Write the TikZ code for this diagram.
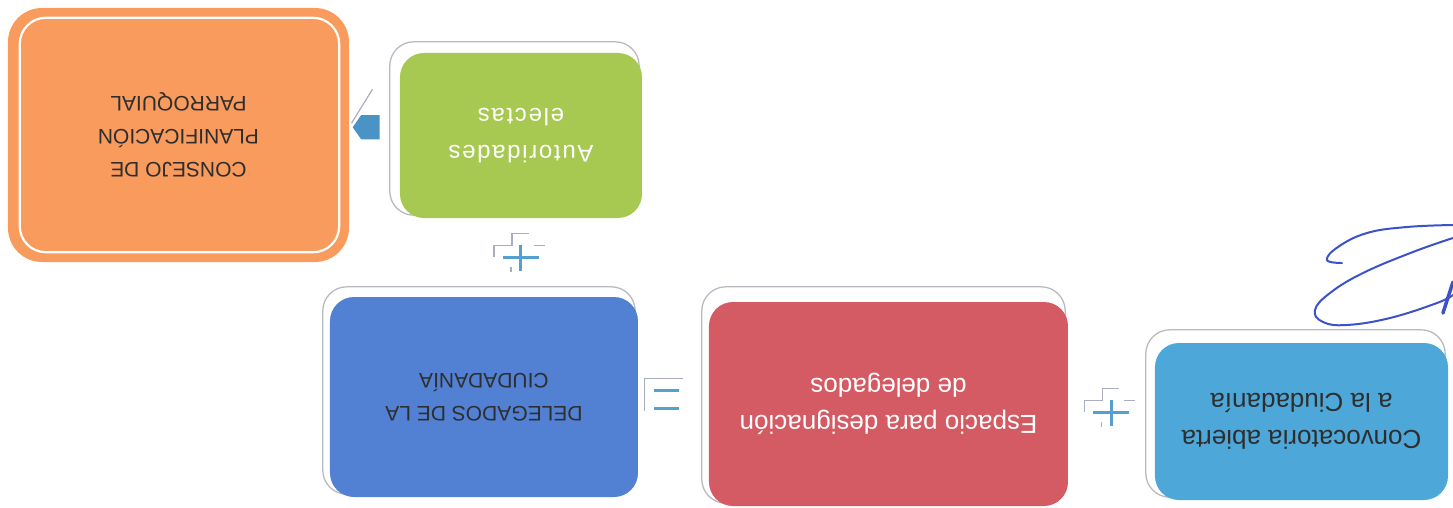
\documentclass[tikz,border=0pt]{standalone}
\usepackage{fontspec}
\setmainfont{Liberation Sans}
\usepackage{xcolor}
\definecolor{skyblue}{HTML}{4DA8D9}
\definecolor{rose}{HTML}{D45A63}
\definecolor{royal}{HTML}{5280D3}
\definecolor{lime}{HTML}{A8C951}
\definecolor{tangerine}{HTML}{F89B5C}
\definecolor{arrowblue}{HTML}{4A93C6}
\definecolor{opblue}{HTML}{55A0CF}
\definecolor{framegray}{HTML}{B9B9C2}
\definecolor{opgray}{HTML}{A9ADC0}
\definecolor{ink}{HTML}{2E2E2E}
\definecolor{signblue}{HTML}{3C52C9}
\usetikzlibrary{calc,shapes.arrows,backgrounds}
\tikzset{
  box/.style     ={rounded corners=24pt,align=center,text=ink,inner sep=0pt,
                   font=\fontsize{26}{37}\selectfont},
  capbox/.style  ={box,font=\fontsize{21}{33}\selectfont},
  boxframe/.style={draw=framegray,line width=1.3pt,rounded corners=24pt},
  opline/.style  ={draw=opblue,line width=3pt},
  opshade/.style ={draw=opgray,line width=1.2pt},
  blockarrow/.style={single arrow,fill=arrowblue,minimum height=27pt,
                   single arrow head extend=0pt,single arrow tip angle=110,
                   inner xsep=0pt,inner ysep=12pt},
  pen/.style     ={draw=signblue,line width=2pt,line cap=round},
}

\begin{document}
\begin{tikzpicture}[x=1pt,y=1pt]
% the scanned sheet lies upside down
\begin{scope}[rotate=180,transform shape]
\useasboundingbox (0,0) rectangle (1453,508);

% steps
\node[box,fill=skyblue,minimum width=293pt,minimum height=157pt] (conv) at (151.5,421.5)
  {Convocatoria abierta\\a la Ciudadanía};
\node[box,fill=rose,text=white,minimum width=359pt,minimum height=204pt] (esp) at (564.5,404)
  {Espacio para designación\\de delegados};
\node[capbox,fill=royal,minimum width=308pt,minimum height=200pt] (deleg) at (969,397)
  {DELEGADOS DE LA\\CIUDADANÍA};
\node[box,fill=lime,text=white,font=\fontsize{24}{37}\selectfont\addfontfeature{LetterSpace=7},
  minimum width=242pt,minimum height=165pt] (aut) at (932,135.5)
  {Autoridades\\electas};
\node[capbox,fill=tangerine,rounded corners=34pt,minimum width=341pt,minimum height=254pt]
  (cons) at (1274.5,135) {CONSEJO DE\\PLANIFICACIÓN\\PARROQUIAL};
\draw[white,line width=2.2pt,rounded corners=26pt]
  ($(cons.south west)+(10,10)$) rectangle ($(cons.north east)+(-12,-10)$);

% shadow frames
\begin{scope}[on background layer]
\foreach \nm/\dx/\dy in {conv/9/13, esp/7/15, deleg/7/10, aut/10/11}
  \draw[boxframe] ($(\nm.north west)+(3,-3)$) rectangle ($(\nm.south east)+(\dx,-\dy)$);
\end{scope}

% operators
\coordinate (plusA) at ($(conv.east)!0.5!(esp.west)$);
\path (aut.north) -- (aut.north |- deleg.south) coordinate[pos=0.5] (plusB);
\coordinate (eqC) at ($(esp.east)!0.6!(deleg.west)$);
\foreach \p in {plusA,plusB}
 {\draw[opshade] ($(\p)+(27,-1)$) -- ++(0,-11) -- ++(-18,0) -- ++(0,-12) -- ++(-17,0);
  \draw[opshade] ($(\p)+(-13,-12)$) -- ++(-11,0);
  \draw[opshade] ($(\p)+(10,9)$) -- ++(0,5);
  \draw[opline] ($(\p)+(-18,0)$) -- ($(\p)+(18,0)$);
  \draw[opline] ($(\p)+(0,-13)$) -- ($(\p)+(0,13)$);}
\draw[opshade] ($(eqC)+(-17,-21)$) -- ($(eqC)+(22,-21)$) -- ($(eqC)+(22,11)$);
\draw[opline] ($(eqC)+(-12.5,9)$) -- ($(eqC)+(12.5,9)$);
\draw[opline] ($(eqC)+(-12.5,-9)$) -- ($(eqC)+(12.5,-9)$);

\node[blockarrow] (arr) at ($(aut.east)!0.5!(cons.west)+(4,-8)$) {};
\draw[opshade] ($(arr)+(-2,-38)$) -- ($(arr)+(19,-4)$);

% signature
\draw[pen] plot[smooth,tension=0.7] coordinates
  {(111,263) (126,260) (115,247) (86,233) (46,227) (0,225)};
\draw[pen] plot[smooth,tension=0.7] coordinates
  {(0,238) (40,252) (90,273) (123,293) (138,310) (130,322) (106,325) (63,318) (16,303) (0,295)};
\draw[pen,line width=3.5pt] (10,313) -- (0,282);
\end{scope}
\end{tikzpicture}
\end{document}
